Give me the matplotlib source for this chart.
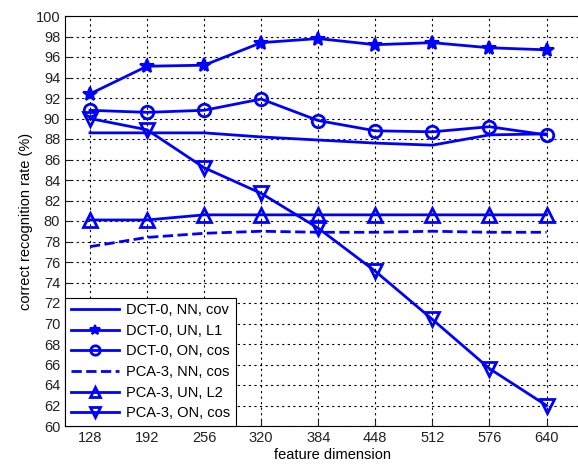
import numpy as np
import matplotlib.pyplot as plt

plt.rcParams['font.family'] = ['Liberation Sans', 'DejaVu Sans']

dims = [128, 192, 256, 320, 384, 448, 512, 576, 640]
dct_nn_cov = [88.6, 88.6, 88.6, 88.2, 87.9, 87.6, 87.4, 88.4, 88.5]
dct_un_l1 = [92.4, 95.1, 95.2, 97.4, 97.8, 97.2, 97.4, 96.9, 96.7]
dct_on_cos = [90.8, 90.6, 90.8, 91.9, 89.8, 88.8, 88.7, 89.2, 88.4]
pca_nn_cos = [77.5, 78.4, 78.8, 79.0, 78.9, 78.9, 79.0, 78.9, 78.9]
pca_un_l2 = [80.1, 80.1, 80.6, 80.6, 80.6, 80.6, 80.6, 80.6, 80.6]
pca_on_cos = [90.0, 88.9, 85.2, 82.7, 79.3, 75.1, 70.4, 65.6, 62.0]

fig = plt.figure(figsize=(5.78, 4.68), dpi=100)
ax = fig.add_axes([65/578, 42/468, 535/578, 410/468])

blue = '#0000ff'
kw = dict(color=blue, lw=2, mfc='none', mew=2)
ax.plot(dims, dct_nn_cov, '-', label='DCT-0, NN, cov', **kw)
ax.plot(dims, dct_un_l1, '-*', ms=10, label='DCT-0, UN, L1',
        color=blue, lw=2, mfc=blue, mew=1.5)
ax.plot(dims, dct_on_cos, '-o', ms=9, label='DCT-0, ON, cos', **kw)
ax.plot(dims, pca_nn_cos, '--', label='PCA-3, NN, cos', **kw)
ax.plot(dims, pca_un_l2, '-^', ms=10, label='PCA-3, UN, L2', **kw)
ax.plot(dims, pca_on_cos, '-v', ms=10, label='PCA-3, ON, cos', **kw)

ax.set_xlim(100, 700)
ax.set_ylim(60, 100)
ax.set_xticks(dims)
ax.set_yticks(np.arange(60, 101, 2))
ax.tick_params(direction='in', labelsize=10.5, colors='#222222', length=4)
ax.grid(True, color='black', linestyle=(0, (2, 3)), linewidth=0.8)
ax.set_xlabel('feature dimension', fontsize=10.5, labelpad=2)
ax.set_ylabel('correct recognition rate (%)', fontsize=10.5, labelpad=2)

leg = ax.legend(loc='lower left', fontsize=10.5, fancybox=False, framealpha=1,
                edgecolor='black', borderaxespad=0, handlelength=3.3,
                labelspacing=0.45, borderpad=0.4, handletextpad=0.5,
                markerscale=0.75)
leg.get_frame().set_linewidth(0.8)

fig.savefig('out.png', dpi=100)
